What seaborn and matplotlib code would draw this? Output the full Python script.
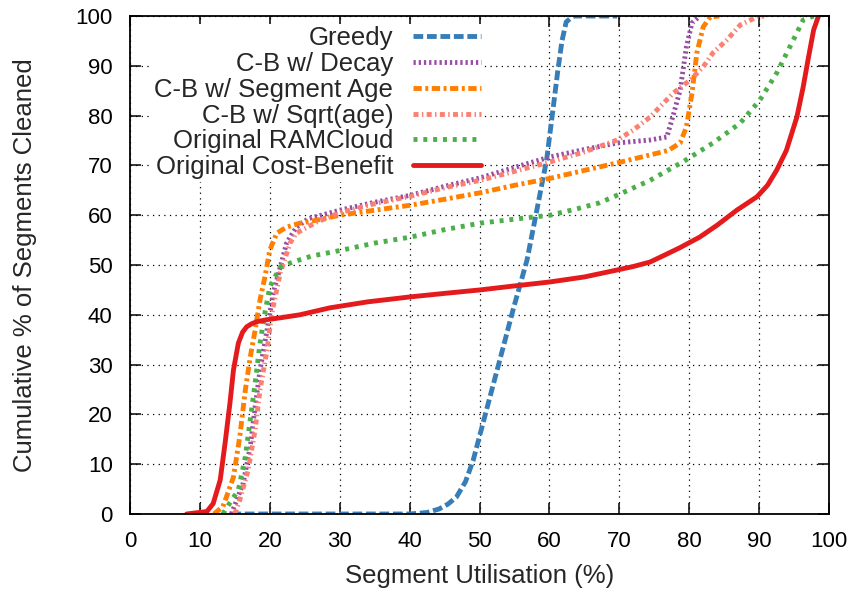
import matplotlib
matplotlib.use("Agg")
import matplotlib.pyplot as plt
import seaborn as sns
import pandas as pd

# ---- data ----
greedy_x = [14.5, 30, 40, 42.5, 44.2, 45.5, 46.7, 48, 49.1, 51, 52.9, 54.8, 56.8, 58.2, 59.6, 60.5, 61.2, 61.8, 62.4, 63.4, 65, 69.7]
greedy_y = [0, 0, 0, 0.3, 1, 2, 3.4, 6.5, 10.8, 20.9, 30.9, 41, 51, 61, 71.1, 81.1, 89, 95, 98.8, 100, 100, 100]

decay_x = [14.5, 16.2, 17.2, 17.9, 18.6, 19.6, 20.5, 21.5, 22.4, 23.8, 25.5, 30, 35, 40.1, 45, 50.1, 55, 60.1, 65, 69.7, 74.4, 76.8, 77.7, 78.7, 79.6, 80.4, 81.5]
decay_y = [0, 6.2, 13.5, 21.5, 28.9, 36.9, 44.4, 49.6, 54.4, 57.6, 59.3, 61, 62.6, 64, 65.8, 67.5, 69.6, 71.7, 73.2, 74.5, 75.1, 75.7, 80, 85.1, 93.8, 98.6, 100]

segage_x = [12, 13.3, 14.8, 15.7, 16.5, 17.2, 17.9, 18.6, 19.3, 20, 21, 22.4, 24.3, 26.7, 30, 35, 40.1, 45, 50.1, 55, 60.1, 65, 69.7, 74.4, 77, 78.7, 79.6, 80.4, 81.1, 82, 83, 84.3]
segage_y = [0, 1.5, 7.4, 15.5, 24.9, 31.5, 36.9, 43, 47.6, 53, 56.4, 57.6, 58.4, 59, 60, 61, 62, 63.2, 64.5, 66, 67.4, 69, 70.5, 72.1, 73, 74.5, 77.7, 84.5, 92.6, 97.8, 99.8, 100]

sqrt_x = [15, 15.7, 16.9, 17.9, 18.6, 19.6, 20.3, 21.5, 22.9, 23.8, 26.7, 30, 35, 40.1, 45, 50.1, 55, 60.1, 65, 69.7, 72, 74.4, 77.7, 80.1, 82, 83.4, 85.4, 87.3, 89.7, 90.7]
sqrt_y = [0, 2.8, 8.8, 16.9, 24.9, 32.9, 40.4, 48.4, 54.4, 56.4, 58.6, 60.5, 62.3, 63.8, 65.5, 67, 68.8, 70.7, 72.7, 75.1, 77.1, 79.7, 84.5, 87.1, 89.8, 92.6, 95.2, 98.2, 99.8, 100]

ramcloud_x = [13.3, 13.8, 15.5, 16.5, 17.2, 17.9, 18.6, 19.3, 20, 21.5, 23.3, 26, 30, 35, 40.1, 45, 50.1, 55, 60.1, 64, 67.2, 70, 74.4, 79.2, 83.4, 87.3, 90.1, 92.5, 94.9, 96.3, 97.8]
ramcloud_y = [0, 1.2, 4.8, 11.5, 18.9, 26.3, 34.3, 40.4, 45.6, 49.6, 50.6, 51.8, 52.9, 54.4, 55.6, 57.1, 58.4, 59.2, 60, 61.3, 62.5, 64.2, 67, 70.8, 74.5, 78.5, 83.1, 88.5, 95.2, 99.2, 100]

costben_x = [8.1, 11, 11.9, 12.9, 13.6, 14.3, 14.8, 15.5, 16.1, 16.7, 17.4, 18.1, 19.5, 21.5, 24.3, 28.6, 34, 40.1, 45, 50.1, 55, 60.1, 65, 69.7, 72, 74.4, 76.5, 78.7, 81.5, 84, 86.8, 89.7, 91.2, 92.5, 93.9, 95.4, 96.3, 97, 97.8, 98.5]
costben_y = [0, 0.5, 2.1, 6.8, 14.2, 22.3, 28.9, 34.3, 36.5, 37.6, 38.2, 38.6, 39, 39.4, 40, 41.4, 42.6, 43.6, 44.3, 45, 45.8, 46.6, 47.6, 49, 49.7, 50.6, 52, 53.5, 55.6, 58, 61, 63.7, 66, 69, 73, 79.7, 85.7, 91.2, 97.2, 100]

labels = ["Greedy", "C-B w/ Decay", "C-B w/ Segment Age", "C-B w/ Sqrt(age)",
          "Original RAMCloud", "Original Cost-Benefit"]
xticks = [0, 10, 20, 30, 40, 50, 60, 70, 80, 90, 100]
yticks = [0, 10, 20, 30, 40, 50, 60, 70, 80, 90, 100]

series = [(greedy_x, greedy_y), (decay_x, decay_y), (segage_x, segage_y),
          (sqrt_x, sqrt_y), (ramcloud_x, ramcloud_y), (costben_x, costben_y)]
colors = ["#377eb8", "#984ea3", "#ff7f00", "#fb8072", "#4daf4a", "#e41a1c"]
styles = [(0, (2.0, 0.77)), (0, (0.47, 0.6)), (0, (1.7, 0.73, 0.6, 0.73)),
          (0, (1.03, 0.69, 0.3, 0.69)), (0, (0.82, 1.2)), "-"]

# ---- figure ----
sns.set_style("ticks")
plt.rcParams["font.family"] = ["Liberation Sans", "DejaVu Sans"]
fig = plt.figure(figsize=(8.56, 5.93), dpi=100)
ax = fig.add_axes([130 / 856, 1 - 514 / 593, 699 / 856, 498 / 593])

for (xs, ys), lab, col, ls in zip(series, labels, colors, styles):
    df = pd.DataFrame({"x": xs, "y": ys})
    sns.lineplot(data=df, x="x", y="y", ax=ax, color=col, linewidth=3.5,
                 linestyle=ls, label=lab, sort=False, estimator=None,
                 errorbar=None)

ax.set_xlim(0, 100)
ax.set_ylim(0, 100)
ax.set_xticks(xticks)
ax.set_yticks(yticks)
ax.set_xticklabels([str(t) for t in xticks])
ax.set_yticklabels([str(t) for t in yticks])
ax.grid(True, color="black", linestyle=(0, (1, 3.5)), linewidth=0.9)
ax.set_axisbelow(True)
for s in ax.spines.values():
    s.set_visible(True)
    s.set_linewidth(1.3)
    s.set_color("black")
ax.tick_params(direction="in", length=8, width=1.1, top=True, right=True,
               labelsize=16, pad=12.5, colors="black")
ax.set_xlabel("Segment Utilisation (%)", fontsize=18.5)
ax.set_ylabel("Cumulative % of Segments Cleaned", fontsize=18.5)
ax.xaxis.set_label_coords(0.5, -0.1)
ax.yaxis.set_label_coords(-0.133, 0.5)

leg = ax.legend(loc="upper right", bbox_to_anchor=(0.509, 0.99), markerfirst=False,
                frameon=True, fancybox=False, framealpha=1, edgecolor="white",
                facecolor="white", fontsize=18.5, handlelength=2.65,
                handletextpad=0.75, labelspacing=0.07, borderaxespad=0.1,
                borderpad=0.1)
leg.get_frame().set_linewidth(0)
leg.set_zorder(1.5)

fig.savefig("out.png", dpi=100)
